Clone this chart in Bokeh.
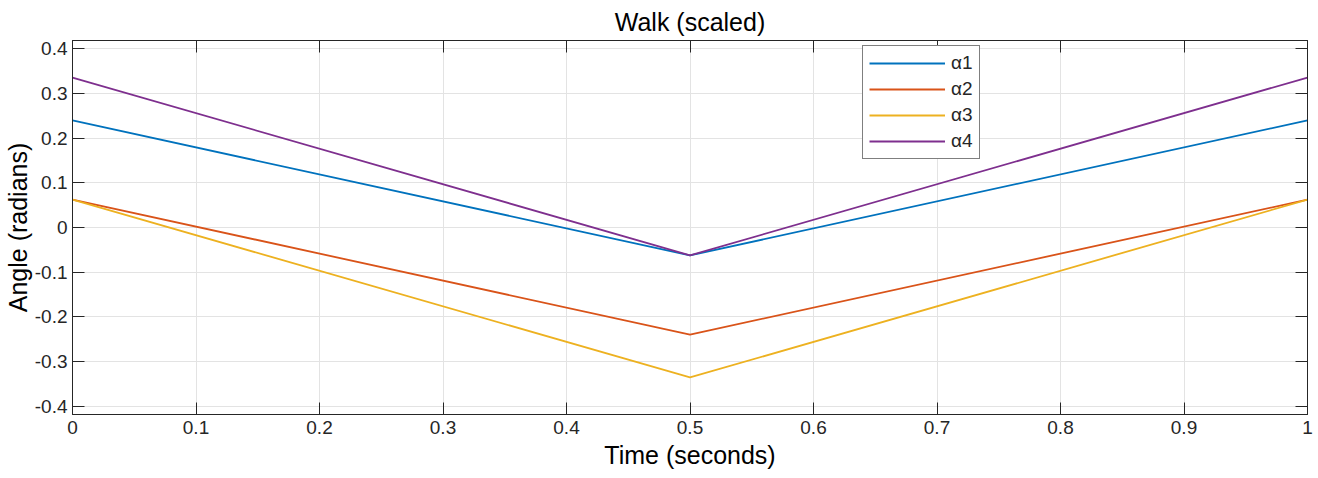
from bokeh.plotting import figure
from bokeh.models import (LinearAxis, FixedTicker, Range1d, Legend, LegendItem,
                          ColumnDataSource, CustomLabelingPolicy)
from bokeh.embed import file_html
from bokeh.resources import INLINE

# ---- data ----
time_s = [0.0, 0.5, 1.0]
alpha1 = [0.24, -0.0625, 0.24]
alpha2 = [0.0625, -0.24, 0.0625]
alpha3 = [0.0625, -0.336, 0.0625]
alpha4 = [0.336, -0.0625, 0.336]
series_names = ["α1", "α2", "α3", "α4"]
x_ticks = [0, 0.1, 0.2, 0.3, 0.4, 0.5, 0.6, 0.7, 0.8, 0.9, 1]
x_tick_labels = ["0", "0.1", "0.2", "0.3", "0.4", "0.5", "0.6", "0.7", "0.8", "0.9", "1"]
y_ticks = [-0.4, -0.3, -0.2, -0.1, 0, 0.1, 0.2, 0.3, 0.4]
y_tick_labels = ["-0.4", "-0.3", "-0.2", "-0.1", "0", "0.1", "0.2", "0.3", "0.4"]

colors = ["#0072BD", "#D95319", "#EDB120", "#7E2F8E"]
FONT = "Liberation Sans"
AX = "#262626"

p = figure(width=1318, height=478, output_backend="svg", toolbar_location=None,
           x_range=Range1d(0, 1), y_range=Range1d(-0.419, 0.419),
           x_axis_location=None, y_axis_location=None,
           min_border_left=72, min_border_right=11, min_border_top=39, min_border_bottom=64)
p.background_fill_color = "white"
p.border_fill_color = "white"
p.outline_line_color = AX
p.outline_line_width = 1

p.title.text = "Walk (scaled)"
p.title.align = "center"
p.title.text_font = FONT
p.title.text_font_size = "25px"
p.title.text_font_style = "normal"
p.title.text_color = "black"

xt = FixedTicker(ticks=x_ticks)
yt = FixedTicker(ticks=y_ticks)
xo = {float(t): l for t, l in zip(x_ticks, x_tick_labels)}
yo = {float(t): l for t, l in zip(y_ticks, y_tick_labels)}

def style(ax, labels=True):
    ax.axis_line_color = AX
    ax.major_tick_line_color = AX
    ax.major_tick_in = 12
    ax.major_tick_out = 0
    ax.minor_tick_line_color = None
    ax.major_label_text_font = FONT
    ax.major_label_text_color = AX
    ax.axis_label_text_font = FONT
    ax.axis_label_text_font_style = "normal"
    ax.axis_label_text_color = "black"
    ax.axis_label_text_font_size = "25px"
    ax.major_label_text_font_size = "19px"
    if not labels:
        ax.major_label_policy = CustomLabelingPolicy(code="return []")
        ax.major_label_text_font_size = "0px"
        ax.major_label_standoff = 0

bx = LinearAxis(ticker=xt, major_label_overrides=xo, axis_label="Time (seconds)")
style(bx); bx.major_label_standoff = 6; bx.axis_label_standoff = 4
ly = LinearAxis(ticker=yt, major_label_overrides=yo, axis_label="Angle (radians)")
style(ly); ly.major_label_standoff = 5; ly.axis_label_standoff = 0
tx = LinearAxis(ticker=xt)
style(tx, labels=False)
ry = LinearAxis(ticker=yt)
style(ry, labels=False)
p.add_layout(bx, "below")
p.add_layout(ly, "left")
p.add_layout(tx, "above")
p.add_layout(ry, "right")

p.xgrid.ticker = xt
p.ygrid.ticker = yt
p.xgrid.grid_line_color = "#e3e3e3"
p.ygrid.grid_line_color = "#e3e3e3"
p.xgrid.grid_line_width = 1
p.ygrid.grid_line_width = 1

src = ColumnDataSource(dict(t=time_s, a1=alpha1, a2=alpha2, a3=alpha3, a4=alpha4))
items = []
for col, name, c in zip(["a1", "a2", "a3", "a4"], series_names, colors):
    r = p.line("t", col, source=src, line_color=c, line_width=1.8)
    items.append(LegendItem(label=name, renderers=[r]))

leg = Legend(items=items, location=(790, 255))
leg.label_text_font = FONT
leg.label_text_font_size = "19px"
leg.label_text_color = AX
leg.glyph_width = 76
leg.glyph_height = 20
leg.label_height = 20
leg.label_standoff = 6
leg.spacing = 4
leg.padding = 6
leg.margin = 0
leg.border_line_color = "black"
leg.border_line_width = 1
leg.background_fill_color = "white"
leg.background_fill_alpha = 1
p.add_layout(leg, "center")

open("out.html", "w").write(file_html(p, INLINE))
